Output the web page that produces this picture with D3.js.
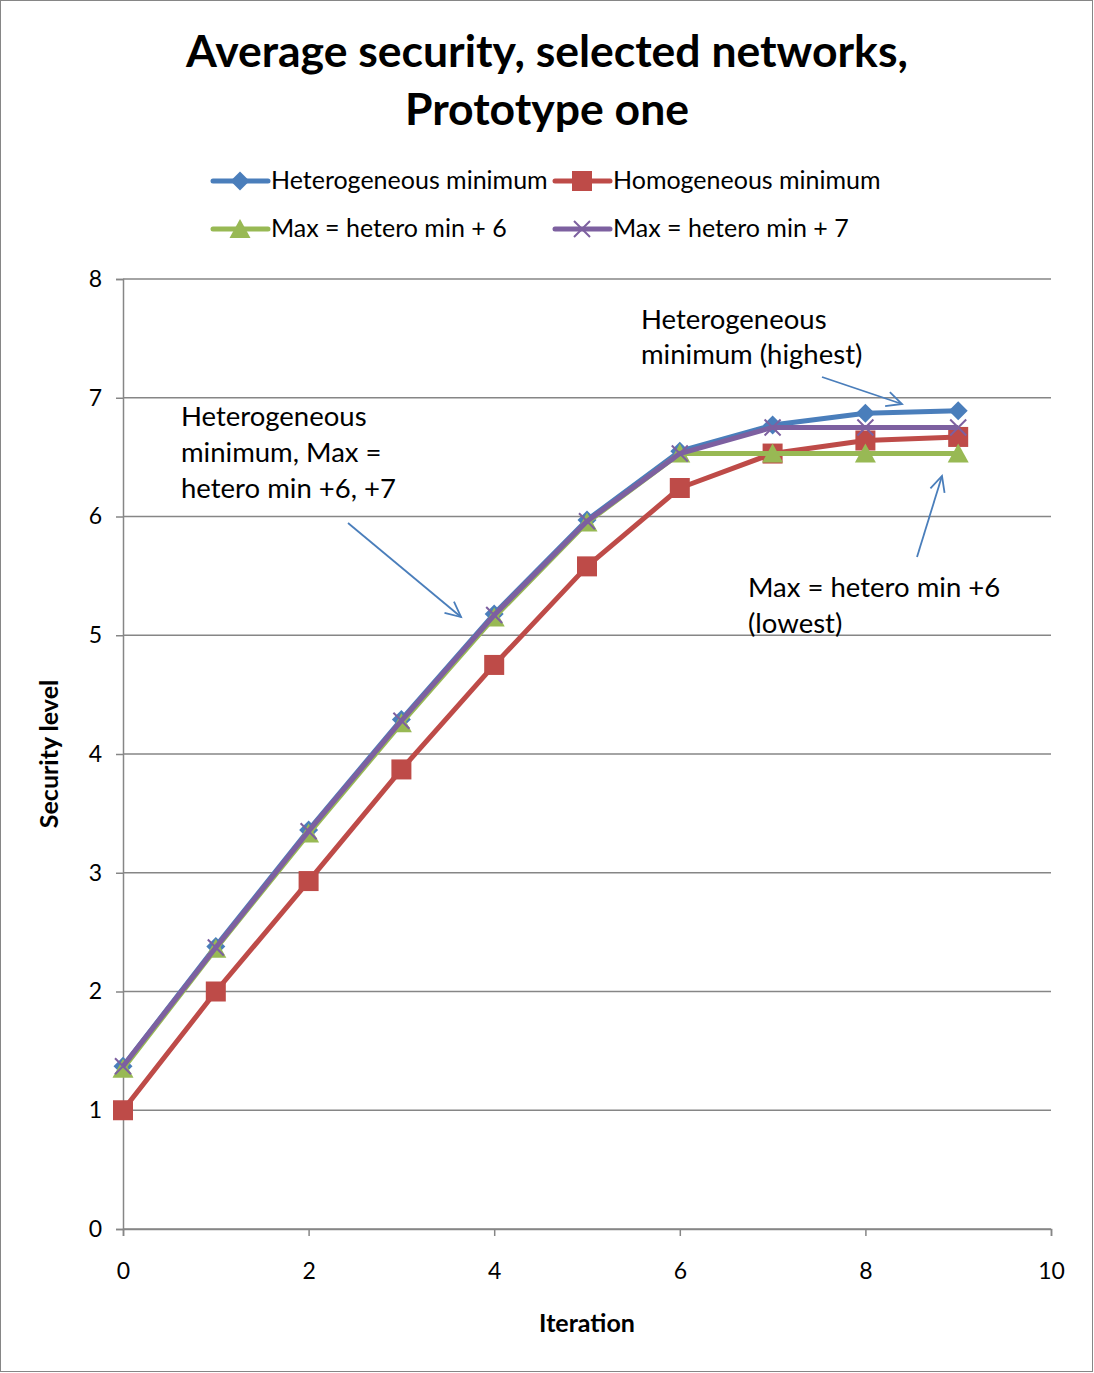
<!DOCTYPE html>
<html>
<head>
<meta charset="utf-8">
<script src="https://cdn.jsdelivr.net/npm/d3@7"></script>
<style>
  html, body { margin: 0; padding: 0; background: #fff; }
  svg { display: block; font-family: Lato, "Open Sans", sans-serif; }
</style>
</head>
<body>
<svg id="chart" width="1094" height="1373"></svg>
<script>
// Iterations along the x axis
const iterations = [0, 1, 2, 3, 4, 5, 6, 7, 8, 9];

// Average security level per iteration for each configuration
const heteroMin = [1.37, 2.38, 3.36, 4.29, 5.18, 5.97, 6.55, 6.77, 6.87, 6.89];
const homoMin   = [1.00, 2.00, 2.93, 3.87, 4.75, 5.58, 6.24, 6.53, 6.64, 6.67];
const maxPlus6  = [1.35, 2.36, 3.33, 4.26, 5.15, 5.95, 6.53, 6.53, 6.53, 6.53];
const maxPlus7  = [1.37, 2.37, 3.35, 4.28, 5.17, 5.96, 6.53, 6.75, 6.75, 6.75];

const seriesNames = ["Heterogeneous minimum", "Homogeneous minimum", "Max = hetero min + 6", "Max = hetero min + 7"];
const xTicks = [0, 2, 4, 6, 8, 10];
const yTicks = [0, 1, 2, 3, 4, 5, 6, 7, 8];

const series = [
  { name: seriesNames[0], values: heteroMin, color: "#4A7EBB", marker: "diamond" },
  { name: seriesNames[1], values: homoMin,   color: "#BE4B48", marker: "square" },
  { name: seriesNames[2], values: maxPlus6,  color: "#98B954", marker: "triangle" },
  { name: seriesNames[3], values: maxPlus7,  color: "#7D60A0", marker: "cross" }
];

const svg = d3.select("#chart");
const W = 1094, H = 1373;

// Chart frame
svg.append("rect")
  .attr("x", 0.5).attr("y", 0.5).attr("width", W - 2).attr("height", H - 2)
  .attr("fill", "#fff").attr("stroke", "#868686").attr("stroke-width", 1);

const plot = { left: 123, right: 1051, top: 279, bottom: 1229 };
const x = d3.scaleLinear().domain([0, 10]).range([plot.left, plot.right]);
const y = d3.scaleLinear().domain([0, 8]).range([plot.bottom, plot.top]);

// Title
const title = svg.append("text")
  .attr("text-anchor", "middle")
  .attr("font-weight", "bold")
  .attr("font-size", 44.5)
  .attr("fill", "#000");
title.append("tspan").attr("x", 547).attr("y", 67).text("Average security, selected networks,");
title.append("tspan").attr("x", 547).attr("y", 125).text("Prototype one");

// Horizontal gridlines
svg.append("g")
  .selectAll("line")
  .data(yTicks)
  .join("line")
  .attr("x1", plot.left).attr("x2", plot.right)
  .attr("y1", d => y(d)).attr("y2", d => y(d))
  .attr("stroke", "#868686").attr("stroke-width", 1.5);

// Axes
const yAxis = d3.axisLeft(y).tickValues(yTicks).tickSize(7).tickPadding(14);
const xAxis = d3.axisBottom(x).tickValues(xTicks).tickSize(7).tickPadding(27);

const gy = svg.append("g").attr("transform", `translate(${plot.left},0)`).call(yAxis);
const gx = svg.append("g").attr("transform", `translate(0,${plot.bottom})`).call(xAxis);
[gx, gy].forEach(g => {
  g.select(".domain").attr("stroke", "#868686").attr("stroke-width", 1.5);
  g.selectAll(".tick line").attr("stroke", "#868686").attr("stroke-width", 1.5);
  g.selectAll(".tick text").attr("font-size", 23).attr("fill", "#000")
    .attr("font-family", "Lato, 'Open Sans', sans-serif");
});

// Axis titles
svg.append("text")
  .attr("x", 587).attr("y", 1332)
  .attr("text-anchor", "middle").attr("font-weight", "bold").attr("font-size", 25)
  .text("Iteration");
svg.append("text")
  .attr("transform", "translate(58,754) rotate(-90)")
  .attr("text-anchor", "middle").attr("font-weight", "bold").attr("font-size", 25)
  .text("Security level");

// Marker shapes
function drawMarker(g, type, color, cx, cy) {
  if (type === "diamond") {
    g.append("path")
      .attr("d", `M${cx},${cy - 9.5}L${cx + 9.5},${cy}L${cx},${cy + 9.5}L${cx - 9.5},${cy}Z`)
      .attr("fill", color);
  } else if (type === "square") {
    g.append("rect")
      .attr("x", cx - 10).attr("y", cy - 10).attr("width", 20).attr("height", 20)
      .attr("fill", color);
  } else if (type === "triangle") {
    g.append("path")
      .attr("d", `M${cx},${cy - 10}L${cx + 10.5},${cy + 9}L${cx - 10.5},${cy + 9}Z`)
      .attr("fill", color);
  } else if (type === "cross") {
    g.append("path")
      .attr("d", `M${cx - 8},${cy - 8}L${cx + 8},${cy + 8}M${cx - 8},${cy + 8}L${cx + 8},${cy - 8}`)
      .attr("stroke", color).attr("stroke-width", 2).attr("fill", "none");
  }
}

const line = d3.line().x((d, i) => x(iterations[i])).y(d => y(d));

// Series lines with markers
series.forEach(s => {
  const g = svg.append("g");
  g.append("path")
    .attr("d", line(s.values))
    .attr("fill", "none")
    .attr("stroke", s.color)
    .attr("stroke-width", 5)
    .attr("stroke-linejoin", "round");
  s.values.forEach((v, i) => drawMarker(g, s.marker, s.color, x(iterations[i]), y(v)));
});

// Legend
const legendPos = [
  { lx: 213, ly: 181 }, { lx: 555, ly: 181 },
  { lx: 213, ly: 229 }, { lx: 555, ly: 229 }
];
series.forEach((s, i) => {
  const p = legendPos[i];
  const g = svg.append("g");
  g.append("line")
    .attr("x1", p.lx).attr("x2", p.lx + 55)
    .attr("y1", p.ly).attr("y2", p.ly)
    .attr("stroke", s.color).attr("stroke-width", 5).attr("stroke-linecap", "round");
  drawMarker(g, s.marker, s.color, p.lx + 27, p.ly);
  g.append("text")
    .attr("x", p.lx + 58).attr("y", p.ly + 8)
    .attr("font-size", 25).attr("fill", "#000")
    .text(s.name);
});

// Annotations with arrows
const arrowColor = "#4A7EBB";
function arrow(x1, y1, x2, y2) {
  const g = svg.append("g").attr("stroke", arrowColor).attr("stroke-width", 1.8).attr("fill", "none");
  g.append("line").attr("x1", x1).attr("y1", y1).attr("x2", x2).attr("y2", y2);
  const ang = Math.atan2(y2 - y1, x2 - x1);
  const len = 17, spread = 0.45;
  const a1 = ang + Math.PI - spread, a2 = ang + Math.PI + spread;
  g.append("path")
    .attr("d", `M${x2 + len * Math.cos(a1)},${y2 + len * Math.sin(a1)}L${x2},${y2}L${x2 + len * Math.cos(a2)},${y2 + len * Math.sin(a2)}`);
}

function note(lines, x0, y0, lh) {
  const t = svg.append("text").attr("font-size", 27.5).attr("fill", "#000");
  lines.forEach((l, i) => t.append("tspan").attr("x", x0).attr("y", y0 + i * lh).text(l));
}

note(["Heterogeneous", "minimum (highest)"], 641, 329, 35);
arrow(822, 377, 902, 404);

note(["Heterogeneous", "minimum, Max =", "hetero min +6, +7"], 181, 426, 36);
arrow(348, 523, 461, 617);

note(["Max = hetero min +6", "(lowest)"], 748, 597, 36);
arrow(917, 557, 942, 476);
</script>
</body>
</html>
